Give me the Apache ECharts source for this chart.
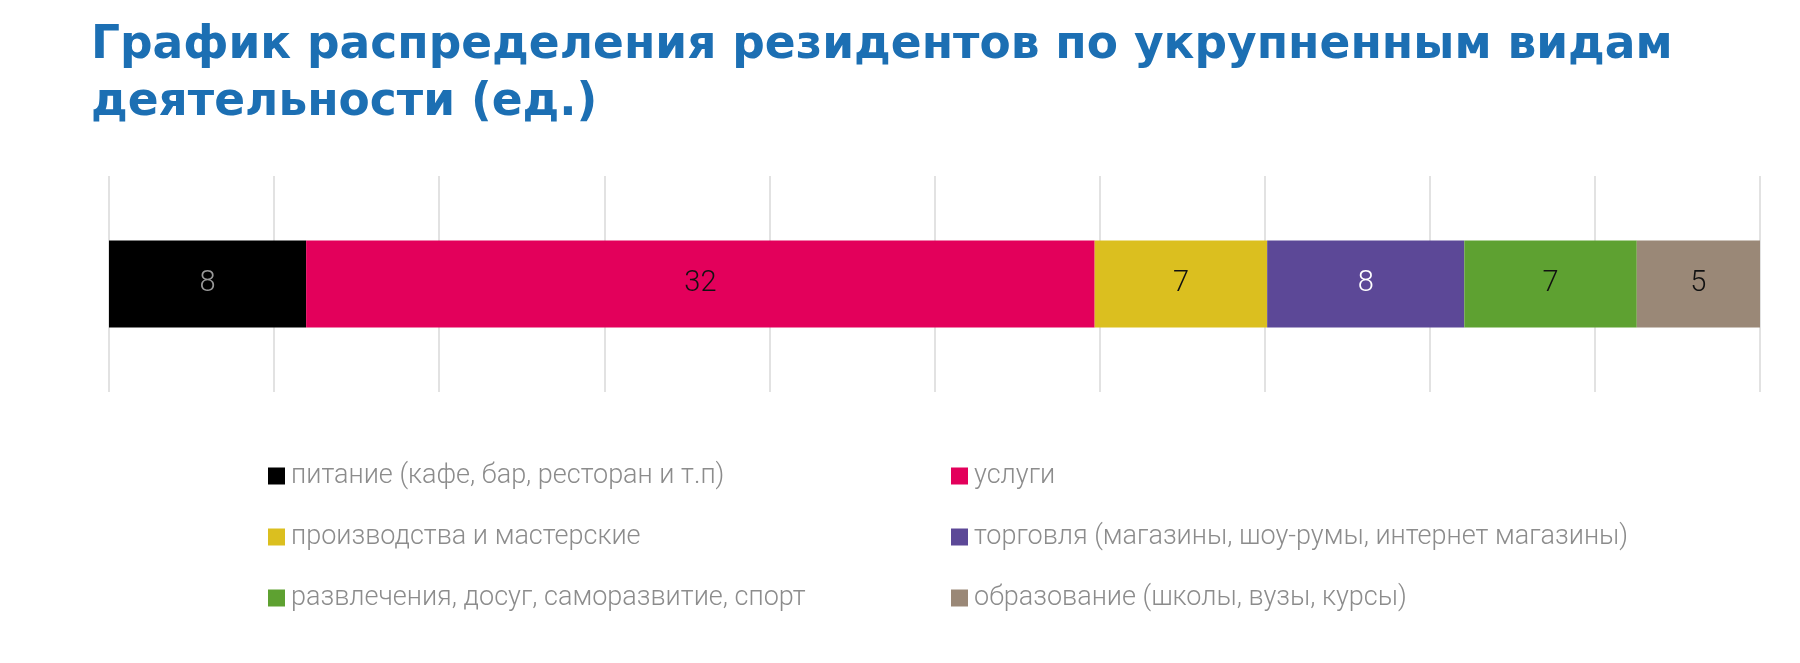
<!DOCTYPE html>
<html>
<head>
<meta charset="utf-8">
<script src="https://cdn.jsdelivr.net/npm/echarts@6/dist/echarts.min.js"></script>
<style>
  html, body { margin: 0; padding: 0; background: #fff; }
  #chart { width: 1800px; height: 663px; }
</style>
</head>
<body>
<div id="chart"></div>
<script>
// данные
var categories = [
    'питание (кафе, бар, ресторан и т.п)',
    'услуги',
    'производства и мастерские',
    'торговля (магазины, шоу-румы, интернет магазины)',
    'развлечения, досуг, саморазвитие, спорт',
    'образование (школы, вузы, курсы)'
];
var values = [8, 32, 7, 8, 7, 5];
var colors = ['#000000', '#e3005b', '#dbbf1f', '#5c4897', '#5ea131', '#9a8877'];
var labelColors = ['#999999', '#111111', '#111111', '#ffffff', '#111111', '#111111'];

var total = values.reduce(function (a, b) { return a + b; }, 0);

var myChart = echarts.init(document.getElementById('chart'));

var series = categories.map(function (name, i) {
    return {
        name: name,
        type: 'bar',
        stack: 'all',
        barWidth: 87,
        data: [values[i]],
        itemStyle: { color: colors[i] },
        label: {
            show: true,
            position: 'inside',
            color: labelColors[i],
            fontFamily: 'Roboto',
            fontWeight: 300,
            fontSize: 29
        }
    };
});

var legendText = {
    color: '#8c8c8c',
    fontFamily: 'Roboto',
    fontWeight: 300,
    fontSize: 27,
    lineHeight: 30,
    padding: [0, 0, 0, 1]
};

var option = {
    title: {
        text: 'График распределения резидентов по укрупненным видам\nдеятельности (ед.)',
        left: 86,
        top: 13,
        textStyle: {
            color: '#1c6fb3',
            fontFamily: 'DejaVu Sans',
            fontWeight: 'bold',
            fontSize: 45.5,
            lineHeight: 57
        }
    },
    grid: { left: 109, right: 40, top: 176, bottom: 271 },
    xAxis: {
        type: 'value',
        min: 0,
        max: total,
        interval: total / 10,
        axisLabel: { show: false },
        axisLine: { show: false },
        axisTick: { show: false },
        splitLine: { lineStyle: { color: '#e2e2e2', width: 2 } }
    },
    yAxis: {
        type: 'category',
        data: [''],
        show: false
    },
    legend: [{
        data: categories.filter(function (c, i) { return i % 2 === 0; }),
        orient: 'vertical',
        left: 263,
        top: 456,
        itemWidth: 17,
        itemHeight: 17,
        itemGap: 31,
        icon: 'rect',
        textStyle: legendText
    }, {
        data: categories.filter(function (c, i) { return i % 2 === 1; }),
        orient: 'vertical',
        left: 946,
        top: 456,
        itemWidth: 17,
        itemHeight: 17,
        itemGap: 31,
        icon: 'rect',
        textStyle: legendText
    }],
    series: series
};

myChart.setOption(option);
</script>
</body>
</html>
